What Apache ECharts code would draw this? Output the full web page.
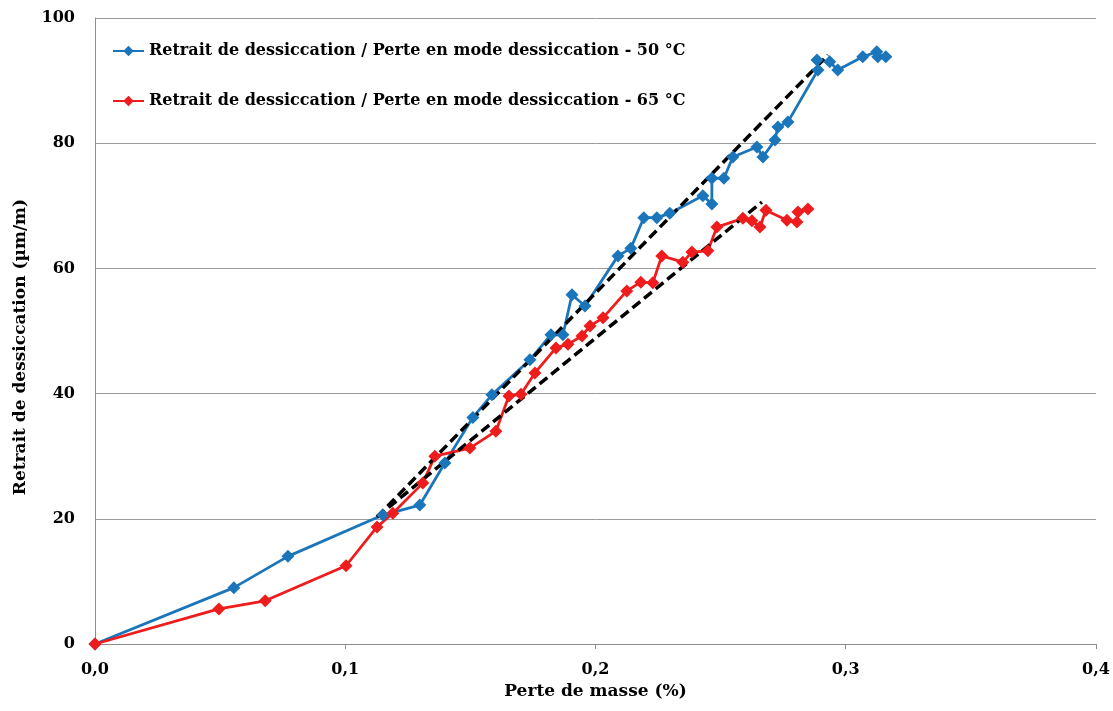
<!DOCTYPE html>
<html>
<head>
<meta charset="utf-8">
<script src="https://cdn.jsdelivr.net/npm/echarts@6/dist/echarts.min.js"></script>
<style>
html,body{margin:0;padding:0;background:#fff;}
#chart{width:1113px;height:711px;}
</style>
</head>
<body>
<div id="chart"></div>
<script>
// ---- Data ----
var seriesNames = [
  'Retrait de dessiccation / Perte en mode dessiccation - 50 °C',
  'Retrait de dessiccation / Perte en mode dessiccation - 65 °C'
];
var loss50 = [0, 0.0555, 0.0771, 0.115, 0.1298, 0.1398, 0.151, 0.1586, 0.1738, 0.1822, 0.187, 0.1906, 0.1958, 0.209, 0.2141, 0.2193, 0.2245, 0.2297, 0.2429, 0.2465, 0.2465, 0.2513, 0.2549, 0.2645, 0.2669, 0.2717, 0.2729, 0.2769, 0.2889, 0.2885, 0.2936, 0.2968, 0.3068, 0.3124, 0.3128, 0.316];
var shrink50 = [0, 9.0, 14.0, 20.6, 22.2, 28.9, 36.2, 39.8, 45.4, 49.4, 49.4, 55.8, 54.0, 62.0, 63.2, 68.1, 68.1, 68.8, 71.6, 70.3, 74.4, 74.4, 77.8, 79.4, 77.8, 80.5, 82.6, 83.4, 91.7, 93.3, 93.0, 91.7, 93.8, 94.6, 93.8, 93.8];
var loss65 = [0, 0.0495, 0.068, 0.1003, 0.1127, 0.119, 0.131, 0.1358, 0.1498, 0.1602, 0.1654, 0.1702, 0.1758, 0.1842, 0.189, 0.1946, 0.1978, 0.203, 0.2125, 0.2181, 0.2229, 0.2265, 0.2349, 0.2385, 0.2449, 0.2485, 0.2589, 0.2625, 0.2657, 0.2681, 0.2765, 0.2805, 0.2809, 0.2849];
var shrink65 = [0, 5.6, 6.9, 12.5, 18.7, 20.9, 25.7, 30.0, 31.3, 34.0, 39.6, 39.9, 43.3, 47.3, 47.9, 49.2, 50.8, 52.1, 56.4, 57.8, 57.7, 62.0, 61.0, 62.6, 62.8, 66.6, 68.0, 67.6, 66.6, 69.3, 67.7, 67.4, 69.0, 69.5];
var trend50X = [0.1127, 0.2929];
var trend50Y = [20.3, 94.1];
var trend65X = [0.1127, 0.2665];
var trend65Y = [20.3, 70.6];
var xTicks = ['0,0', '0,1', '0,2', '0,3', '0,4'];
var yTicks = [0, 20, 40, 60, 80, 100];

function zip(a, b) { return a.map(function (v, i) { return [v, b[i]]; }); }

var BLUE = '#1B75BB';
var RED = '#EE1C1C';
var FONT = '"DejaVu Serif", "Liberation Serif", serif';

var chart = echarts.init(document.getElementById('chart'), null, { renderer: 'canvas' });
chart.setOption({
  backgroundColor: '#ffffff',
  animation: false,
  grid: { left: 95, right: 17, top: 18, bottom: 67, containLabel: false },
  legend: {
    data: seriesNames,
    orient: 'vertical',
    left: 107,
    top: 38,
    itemGap: 34,
    itemWidth: 31,
    itemHeight: 13,
    textStyle: { fontFamily: FONT, fontWeight: 'bold', fontSize: 16, color: '#000' }
  },
  xAxis: {
    type: 'value',
    min: 0, max: 0.4, interval: 0.1,
    name: 'Perte de masse (%)',
    nameLocation: 'middle',
    nameGap: 38,
    nameTextStyle: { fontFamily: FONT, fontWeight: 'bold', fontSize: 17, color: '#000' },
    axisLine: { show: true, lineStyle: { color: '#8c8c8c', width: 1 } },
    axisTick: { show: true, length: 5, inside: false, lineStyle: { color: '#8c8c8c' } },
    splitLine: { show: false },
    axisLabel: {
      margin: 18,
      fontFamily: FONT, fontWeight: 'bold', fontSize: 16, color: '#000',
      formatter: function (v) { return xTicks[Math.round(v * 10)]; }
    }
  },
  yAxis: {
    type: 'value',
    min: 0, max: 100, interval: 20,
    name: 'Retrait de dessiccation (µm/m)',
    nameLocation: 'middle',
    nameGap: 66,
    nameTextStyle: { fontFamily: FONT, fontWeight: 'bold', fontSize: 17, color: '#000', padding: [0, 32, 0, 0] },
    axisLine: { show: true, lineStyle: { color: '#8c8c8c', width: 1 } },
    axisTick: { show: false },
    splitLine: { show: true, lineStyle: { color: '#9a9a9a', width: 1 } },
    axisLabel: {
      margin: 20,
      fontFamily: FONT, fontWeight: 'bold', fontSize: 16, color: '#000',
      formatter: function (v) { return yTicks.indexOf(v) >= 0 ? String(v) : ''; }
    }
  },
  series: [
    {
      name: seriesNames[0], type: 'line', data: zip(loss50, shrink50),
      symbol: 'diamond', symbolSize: 13, showAllSymbol: true,
      itemStyle: { color: BLUE },
      lineStyle: { color: BLUE, width: 2.8 }
    },
    {
      name: seriesNames[1], type: 'line', data: zip(loss65, shrink65),
      symbol: 'diamond', symbolSize: 13, showAllSymbol: true,
      itemStyle: { color: RED },
      lineStyle: { color: RED, width: 2.8 }
    },
    {
      name: 'trend50', type: 'line', data: zip(trend50X, trend50Y),
      symbol: 'none', silent: true,
      lineStyle: { color: '#000', width: 3.5, type: [10, 5] }
    },
    {
      name: 'trend65', type: 'line', data: zip(trend65X, trend65Y),
      symbol: 'none', silent: true,
      lineStyle: { color: '#000', width: 3.5, type: [10, 5] }
    }
  ]
});
</script>
</body>
</html>
